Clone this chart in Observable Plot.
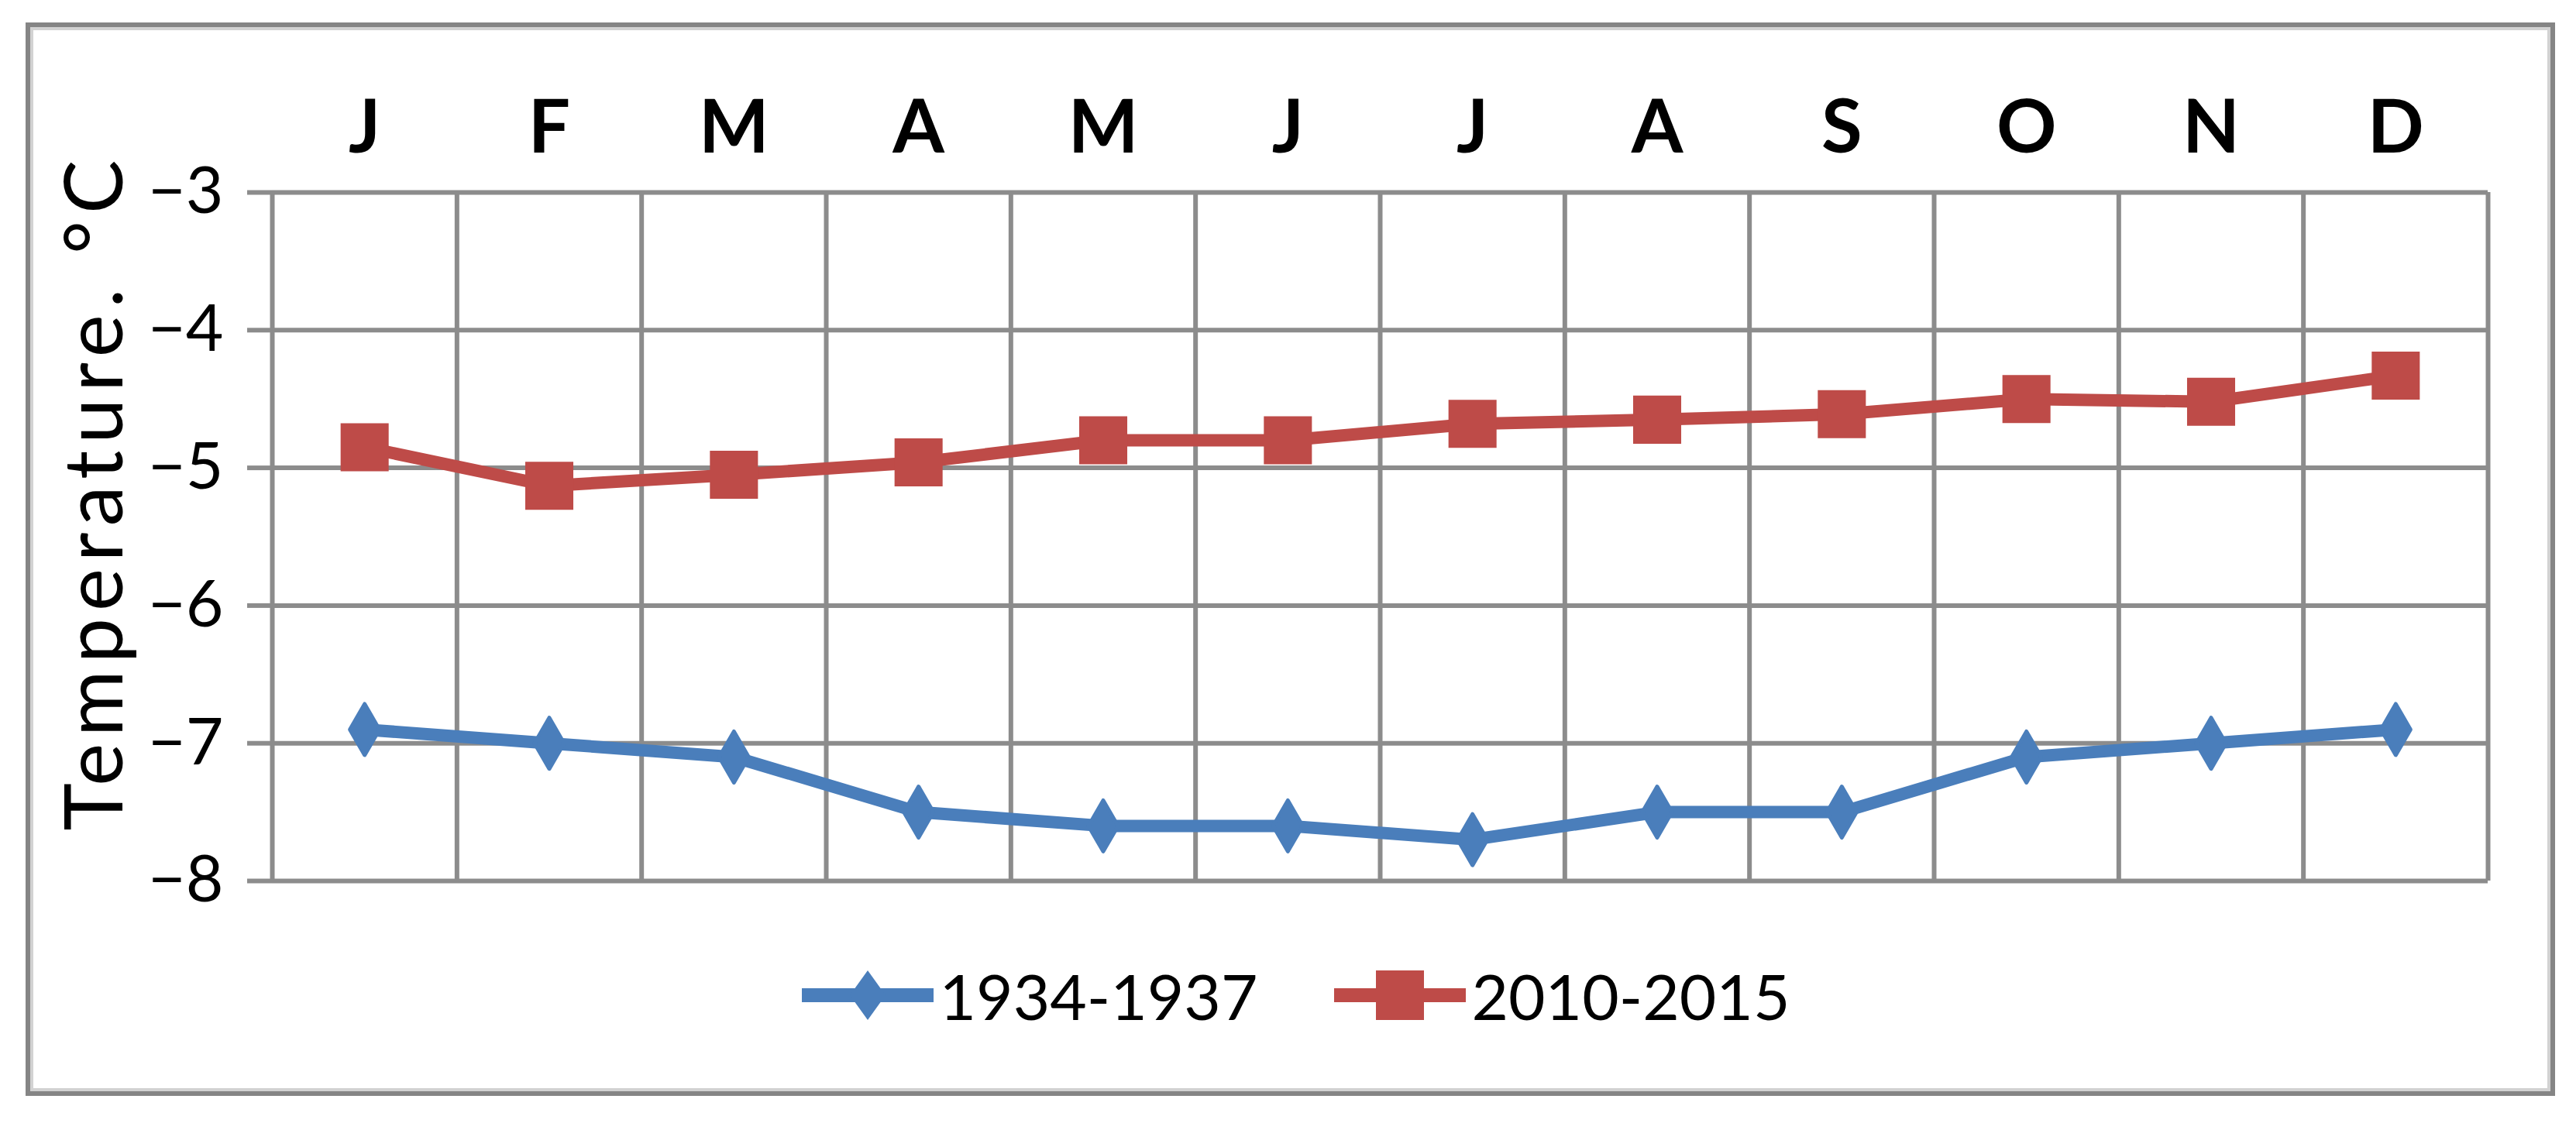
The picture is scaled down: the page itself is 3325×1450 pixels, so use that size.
<!DOCTYPE html>
<html><head><meta charset="utf-8">
<script src="https://cdn.jsdelivr.net/npm/d3@7"></script>
<script src="https://cdn.jsdelivr.net/npm/@observablehq/plot@0.6"></script>
<style>
html,body{margin:0;padding:0;background:#fff;}
#page{position:relative;width:3325px;height:1450px;overflow:hidden;font-family:Lato,"Open Sans",sans-serif;background:#fff;}
#frame{position:absolute;left:33px;top:29px;width:3265px;height:1386px;box-sizing:border-box;border:6px solid #858585;box-shadow:inset 0 0 0 4px #d2d2d2;}
#chart{position:absolute;left:0;top:0;}
#legend{position:absolute;left:10px;width:3325px;top:1235px;height:100px;display:flex;justify-content:center;align-items:center;font-size:82px;color:#000;}
.item{display:flex;align-items:center;}
.item span{margin-left:8px;}
.item + .item{margin-left:98px;}
</style>
</head><body>
<div id="page">
  <div id="frame"></div>
  <div id="chart"></div>
  <div id="legend"></div>
</div>
<script>
const months = ["J","F","M","A","M","J","J","A","S","O","N","D"];
const seriesNames = ["1934-1937", "2010-2015"];
const values1934 = [-6.9, -7.0, -7.1, -7.5, -7.6, -7.6, -7.7, -7.5, -7.5, -7.1, -7.0, -6.9];
const values2010 = [-4.85, -5.13, -5.05, -4.96, -4.80, -4.80, -4.68, -4.65, -4.61, -4.50, -4.52, -4.33];
const yTicks = [-3, -4, -5, -6, -7, -8];
const yTitle = "Temperature. °C";
const colors = ["#4A7EBB", "#BE4B48"];

const rows = [];
months.forEach((m, i) => {
  rows.push({x: i + 0.5, month: m, series: seriesNames[0], v: values1934[i]});
  rows.push({x: i + 0.5, month: m, series: seriesNames[1], v: values2010[i]});
});
const centers = months.map((m, i) => i + 0.5);
const bounds = d3.range(months.length + 1);
const gridColor = "#8c8c8c";

const chart = Plot.plot({
  width: 3325,
  height: 1180,
  marginLeft: 351,
  marginRight: 114,
  marginTop: 248,
  marginBottom: 43,
  style: {fontFamily: "Lato, 'Open Sans', sans-serif", background: "transparent", overflow: "visible"},
  x: {domain: [0, months.length]},
  y: {domain: [-8, -3]},
  color: {domain: seriesNames, range: colors},
  marks: [
    Plot.gridY({ticks: yTicks, stroke: gridColor, strokeOpacity: 1, strokeWidth: 6}),
    Plot.gridX({ticks: bounds, stroke: gridColor, strokeOpacity: 1, strokeWidth: 6}),
    Plot.axisY({ticks: yTicks, tickSize: 32, tickPadding: 31, stroke: gridColor, strokeWidth: 6, fill: "#000", fontSize: 84, label: null,
      tickFormat: d3.format("d")}),
    Plot.axisX({anchor: "top", ticks: centers, tickSize: 0, tickPadding: 52, fontSize: 96, fontWeight: "bold", fill: "#000", label: null,
      tickFormat: d => months[Math.floor(d)]}),
    Plot.text([yTitle], {frameAnchor: "left", rotate: -90, dx: -267, dy: -58, fontSize: 104, textAnchor: "middle", lineAnchor: "top", fill: "#000"}),
    Plot.line(rows, {x: "x", y: "v", z: "series", stroke: "series", strokeWidth: 16, strokeLinejoin: "round"}),
    Plot.dot(rows.filter(d => d.series === seriesNames[0]), {x: "x", y: "v", symbol: "diamond", r: 20, fill: colors[0], stroke: colors[0], strokeWidth: 5, strokeLinejoin: "round"}),
    Plot.dot(rows.filter(d => d.series === seriesNames[1]), {x: "x", y: "v", symbol: "square", r: 35, fill: colors[1]})
  ]
});
document.getElementById("chart").appendChild(chart);
chart.querySelectorAll("text").forEach(t => { if (t.textContent === yTitle) t.setAttribute("letter-spacing", "9"); });

// legend
const legend = document.getElementById("legend");
seriesNames.forEach((name, i) => {
  const item = document.createElement("div");
  item.className = "item";
  const ns = "http://www.w3.org/2000/svg";
  const sw = document.createElementNS(ns, "svg");
  sw.setAttribute("width", 170); sw.setAttribute("height", 80);
  const ln = document.createElementNS(ns, "line");
  ln.setAttribute("x1", 0); ln.setAttribute("x2", 170); ln.setAttribute("y1", 40); ln.setAttribute("y2", 40);
  ln.setAttribute("stroke", colors[i]); ln.setAttribute("stroke-width", 18);
  sw.appendChild(ln);
  if (i === 0) {
    const p = document.createElementNS(ns, "path");
    p.setAttribute("d", "M85,8 L108,40 L85,72 L62,40 Z");
    p.setAttribute("fill", colors[i]);
    sw.appendChild(p);
  } else {
    const r = document.createElementNS(ns, "rect");
    r.setAttribute("x", 54); r.setAttribute("y", 8); r.setAttribute("width", 62); r.setAttribute("height", 64);
    r.setAttribute("fill", colors[i]);
    sw.appendChild(r);
  }
  item.appendChild(sw);
  const t = document.createElement("span");
  t.textContent = name;
  item.appendChild(t);
  legend.appendChild(item);
});
</script>
</body></html>
